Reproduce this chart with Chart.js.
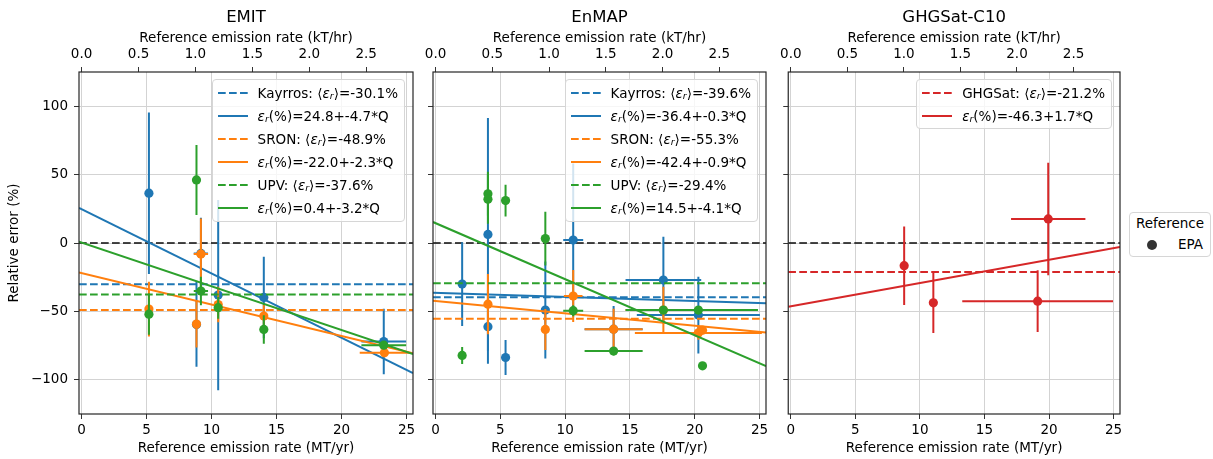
<!DOCTYPE html>
<html>
<head>
<meta charset="utf-8">
<script src="https://cdn.jsdelivr.net/npm/chart.js@4/dist/chart.umd.min.js"></script>
<style>
  body { margin: 0; background: #fff; font-family: "DejaVu Sans", sans-serif; }
  .panel { position: absolute; top: 0; height: 459px; }
  .legend {
    position: absolute; background: rgba(255,255,255,0.8);
    border: 1px solid #d6d6d6; border-radius: 4px;
    padding: 1px 6px 1px 5px; font-size: 13.5px; color: #000;
  }
  .row { height: 23.1px; display: flex; align-items: center; white-space: nowrap; }
  .row svg { margin-right: 10px; flex: none; }
  .sb { font-size: 70%; position: relative; top: 0.3em; font-style: italic; }
  #refLegend {
    position: absolute; left: 1129px; top: 212px; width: 80px; height: 43px;
    border: 1px solid #d6d6d6; border-radius: 4px; font-size: 13.5px;
  }
  #refLegend .ttl { position: absolute; top: 2px; width: 100%; text-align: center; }
  #refLegend .dot { position: absolute; left: 17px; top: 27px; width: 10px; height: 10px; border-radius: 50%; background: #333; }
  #refLegend .lab { position: absolute; left: 48px; top: 23px; }
</style>
</head>
<body>
<div class="panel" id="p1" style="left:0;width:420px"><canvas id="c1"></canvas></div>
<div class="panel" id="p2" style="left:420px;width:356px"><canvas id="c2"></canvas></div>
<div class="panel" id="p3" style="left:776px;width:350px"><canvas id="c3"></canvas></div>
<div id="refLegend"><div class="ttl">Reference</div><div class="dot"></div><div class="lab">EPA</div></div>

<script>
// axes
const xLimits = [-0.2, 25.5];
const yLimits = [-125, 125];
const mtPerKt = 8.76; // MT/yr per kT/hr
const xTicks = [0, 5, 10, 15, 20, 25];
const x2Ticks = [0, 0.5, 1, 1.5, 2, 2.5];
const yTicks = [-100, -50, 0, 50, 100];

// EMIT
const emitKayrrosX = [5.18, 8.84, 9.18, 10.51, 14.02, 23.25];
const emitKayrrosY = [36.4, -59.5, -7.6, -38.1, -39.8, -72.0];
const emitKayrrosXErr = [0.3, 0.3, 0.55, 0.3, 0.3, 1.72];
const emitKayrrosYErr = [59, 31, 26, 69.5, 29.8, 24];

const emitSronX = [5.18, 8.84, 9.18, 10.51, 14.02, 23.3];
const emitSronY = [-48.3, -59.3, -8.1, -45.0, -53.4, -80.3];
const emitSronXErr = [0.3, 0.3, 0.55, 0.3, 0.3, 1.9];
const emitSronYErr = [20, 17, 26, 13, 8, 3];

const emitUpvX = [5.18, 8.84, 9.18, 10.51, 14.02, 23.25];
const emitUpvY = [-52.0, 46.1, -35.1, -47.3, -63.2, -74.7];
const emitUpvXErr = [0.3, 0.3, 0.55, 0.3, 0.3, 1.72];
const emitUpvYErr = [15, 25.6, 10.4, 8, 10.4, 3];

const emitMeans = [-30.1, -48.9, -37.6];
const emitIntercepts = [24.8, -22.0, 0.4];
const emitSlopes = [-4.7, -2.3, -3.2];

// EnMAP
const enmapKayrrosX = [2.05, 4.04, 4.04, 5.4, 8.47, 10.62, 13.74, 17.58, 20.28];
const enmapKayrrosY = [-30, 6.3, -61.2, -83.7, -49, 2.2, -63, -27.1, -52.7];
const enmapKayrrosXErr = [0.2, 0.2, 0.2, 0.2, 0.2, 0.77, 2.24, 2.92, 4.75];
const enmapKayrrosYErr = [30.6, 85, 27, 12.8, 35.4, 56, 17, 31.7, 28];

const enmapSronX = [4.04, 8.47, 10.62, 13.74, 17.58, 20.28, 20.6];
const enmapSronY = [-44.7, -63.2, -38.8, -63, -49, -65.7, -63.7];
const enmapSronXErr = [0.2, 0.2, 0.72, 2.24, 2.92, 4.9, 0.2];
const enmapSronYErr = [22, 15, 19, 15, 17, 5, 3];

const enmapUpvX = [2.05, 4.04, 4.04, 5.4, 8.47, 10.62, 13.74, 17.58, 20.28, 20.6];
const enmapUpvY = [-82.2, 36, 32, 31, 3.2, -49.5, -79, -49, -49, -89.8];
const enmapUpvXErr = [0.2, 0.2, 0.2, 0.2, 0.3, 0.77, 2.24, 2.92, 4.6, 0.2];
const enmapUpvYErr = [6.2, 16, 18, 11.6, 19.7, 4, 3, 3, 3, 2];

const enmapMeans = [-39.6, -55.3, -29.4];
const enmapIntercepts = [-36.4, -42.4, 14.5];
const enmapSlopes = [-0.3, -0.9, -4.1];

// GHGSat-C10
const ghgX = [8.78, 11.04, 19.12, 19.94];
const ghgY = [-16.6, -43.7, -42.5, 17.6];
const ghgXErr = [0.2, 0.2, 5.84, 2.88];
const ghgYErr = [28.7, 22, 22.5, 41.1];
const ghgMeans = [-21.2];
const ghgIntercepts = [-46.3];
const ghgSlopes = [1.7];

const productNames = ["Kayrros", "SRON", "UPV"];
const blue = "#1f77b4", orange = "#ff7f0e", green = "#2ca02c", red = "#d62728";

Chart.defaults.font.family = "DejaVu Sans";
Chart.defaults.font.size = 13.5;
Chart.defaults.color = "#000";

// error bars drawn under each scatter dataset's markers
const errorBars = {
    id: "errorBars",
    beforeDatasetDraw(chart, args) {
        const ds = chart.data.datasets[args.index];
        if (!ds.yErr) return;
        const ctx = chart.ctx, a = chart.chartArea;
        const xs = chart.scales.x, ys = chart.scales.y;
        ctx.save();
        ctx.beginPath();
        ctx.rect(a.left, a.top, a.right - a.left, a.bottom - a.top);
        ctx.clip();
        ctx.strokeStyle = ds.borderColor;
        ctx.lineWidth = 2;
        ds.data.forEach((p, k) => {
            const px = xs.getPixelForValue(p.x), py = ys.getPixelForValue(p.y);
            ctx.beginPath();
            ctx.moveTo(px, ys.getPixelForValue(p.y - ds.yErr[k]));
            ctx.lineTo(px, ys.getPixelForValue(p.y + ds.yErr[k]));
            ctx.moveTo(xs.getPixelForValue(p.x - ds.xErr[k]), py);
            ctx.lineTo(xs.getPixelForValue(p.x + ds.xErr[k]), py);
            ctx.stroke();
        });
        ctx.restore();
    }
};

// axes frame
const frame = {
    id: "frame",
    afterDraw(chart) {
        const ctx = chart.ctx, a = chart.chartArea;
        ctx.save();
        ctx.strokeStyle = "#262626";
        ctx.lineWidth = 1.2;
        ctx.strokeRect(a.left, a.top, a.right - a.left, a.bottom - a.top);
        ctx.restore();
    }
};

const eps = '<i>ε</i><span class="sb">r</span>';
function handle(color, dashed) {
    return '<svg width="30" height="6"><line x1="0" y1="3" x2="30" y2="3" stroke="' + color +
        '" stroke-width="2"' + (dashed ? ' stroke-dasharray="7.7 3.3"' : "") + "/></svg>";
}

function makePanel(panelId, canvasId, title, yAxisWidth, padRight, showY, products) {
    const datasets = [{
        data: xLimits.map(v => ({x: v, y: 0})),
        showLine: true, borderColor: "rgba(0,0,0,0.72)", borderWidth: 1.8,
        borderDash: [7.7, 3.3], pointRadius: 0, order: 200
    }];
    products.forEach((p, i) => {
        datasets.push({
            data: p.x.map((v, k) => ({x: v, y: p.y[k]})),
            xErr: p.xErr, yErr: p.yErr,
            backgroundColor: p.color, borderColor: p.color, borderWidth: 0,
            pointRadius: 4.6, pointHoverRadius: 4.6, order: 100 - 3 * i
        });
        datasets.push({
            data: xLimits.map(v => ({x: v, y: p.mean})),
            showLine: true, borderColor: p.color, borderWidth: 2,
            borderDash: [7.7, 3.3], pointRadius: 0, order: 99 - 3 * i
        });
        datasets.push({
            data: xLimits.map(v => ({x: v, y: p.intercept + p.slope * v})),
            showLine: true, borderColor: p.color, borderWidth: 2,
            pointRadius: 0, order: 98 - 3 * i
        });
    });

    const chart = new Chart(document.getElementById(canvasId), {
        type: "scatter",
        data: {datasets},
        plugins: [errorBars, frame],
        options: {
            responsive: true, maintainAspectRatio: false, animation: false,
            devicePixelRatio: 1,
            layout: {padding: {left: 0, right: padRight, top: 0, bottom: 0}},
            plugins: {
                legend: {display: false}, tooltip: {enabled: false},
                title: {display: true, text: title, fullSize: false,
                    font: {size: 16.5, weight: "normal"}, padding: {top: 7.5, bottom: 2}, color: "#000"}
            },
            scales: {
                x: {
                    type: "linear", position: "bottom", min: xLimits[0], max: xLimits[1],
                    afterBuildTicks: s => { s.ticks = xTicks.map(v => ({value: v})); },
                    afterFit: s => { s.height = 45; },
                    border: {display: false},
                    grid: {color: "#d3d3d3", tickColor: "#333", tickLength: 5},
                    ticks: {padding: 3, callback: v => String(v), maxRotation: 0},
                    title: {display: true, text: "Reference emission rate (MT/yr)", padding: {top: 0, bottom: 2.6}}
                },
                x2: {
                    type: "linear", position: "top", min: xLimits[0] / mtPerKt, max: xLimits[1] / mtPerKt,
                    afterBuildTicks: s => { s.ticks = x2Ticks.map(v => ({value: v})); },
                    afterFit: s => { s.height = 42.7; },
                    border: {display: false},
                    grid: {drawOnChartArea: false, tickColor: "#333", tickLength: 5},
                    ticks: {padding: 4, callback: v => v.toFixed(1), maxRotation: 0},
                    title: {display: true, text: "Reference emission rate (kT/hr)", padding: {top: 1, bottom: 0}}
                },
                y: {
                    type: "linear", position: "left", min: yLimits[0], max: yLimits[1],
                    afterBuildTicks: s => { s.ticks = yTicks.map(v => ({value: v})); },
                    afterFit: s => { s.width = yAxisWidth; },
                    border: {display: false},
                    grid: {color: "#d3d3d3", tickColor: "#333", tickLength: 5},
                    ticks: {padding: 6, color: showY ? "#000" : "rgba(0,0,0,0)",
                        callback: v => v < 0 ? "\u2212" + Math.abs(v) : String(v)},
                    title: {display: showY, text: "Relative error (%)", padding: {top: 6.6, bottom: 0}}
                }
            }
        }
    });

    // legend box inside the axes, upper right
    const a = chart.chartArea;
    const box = document.createElement("div");
    box.className = "legend";
    let html = "";
    products.forEach(p => {
        html += '<div class="row">' + handle(p.color, true) + p.name + ": ⟨" + eps + "⟩=" + p.mean.toFixed(1) + "%</div>";
        html += '<div class="row">' + handle(p.color, false) + eps + "(%)=" + p.intercept.toFixed(1) +
            "+" + p.slope.toFixed(1) + "*Q</div>";
    });
    box.innerHTML = html;
    const panel = document.getElementById(panelId);
    box.style.right = (panel.clientWidth - a.right + 8) + "px";
    box.style.top = (a.top + 7) + "px";
    panel.appendChild(box);
}

makePanel("p1", "c1", "EMIT", 79, 7, true, [
    {name: productNames[0], color: blue, x: emitKayrrosX, y: emitKayrrosY, xErr: emitKayrrosXErr, yErr: emitKayrrosYErr,
        mean: emitMeans[0], intercept: emitIntercepts[0], slope: emitSlopes[0]},
    {name: productNames[1], color: orange, x: emitSronX, y: emitSronY, xErr: emitSronXErr, yErr: emitSronYErr,
        mean: emitMeans[1], intercept: emitIntercepts[1], slope: emitSlopes[1]},
    {name: productNames[2], color: green, x: emitUpvX, y: emitUpvY, xErr: emitUpvXErr, yErr: emitUpvYErr,
        mean: emitMeans[2], intercept: emitIntercepts[2], slope: emitSlopes[2]}
]);

makePanel("p2", "c2", "EnMAP", 13, 10, false, [
    {name: productNames[0], color: blue, x: enmapKayrrosX, y: enmapKayrrosY, xErr: enmapKayrrosXErr, yErr: enmapKayrrosYErr,
        mean: enmapMeans[0], intercept: enmapIntercepts[0], slope: enmapSlopes[0]},
    {name: productNames[1], color: orange, x: enmapSronX, y: enmapSronY, xErr: enmapSronXErr, yErr: enmapSronYErr,
        mean: enmapMeans[1], intercept: enmapIntercepts[1], slope: enmapSlopes[1]},
    {name: productNames[2], color: green, x: enmapUpvX, y: enmapUpvY, xErr: enmapUpvXErr, yErr: enmapUpvYErr,
        mean: enmapMeans[2], intercept: enmapIntercepts[2], slope: enmapSlopes[2]}
]);

makePanel("p3", "c3", "GHGSat-C10", 10, 6, false, [
    {name: "GHGSat", color: red, x: ghgX, y: ghgY, xErr: ghgXErr, yErr: ghgYErr,
        mean: ghgMeans[0], intercept: ghgIntercepts[0], slope: ghgSlopes[0]}
]);
</script>
</body>
</html>
